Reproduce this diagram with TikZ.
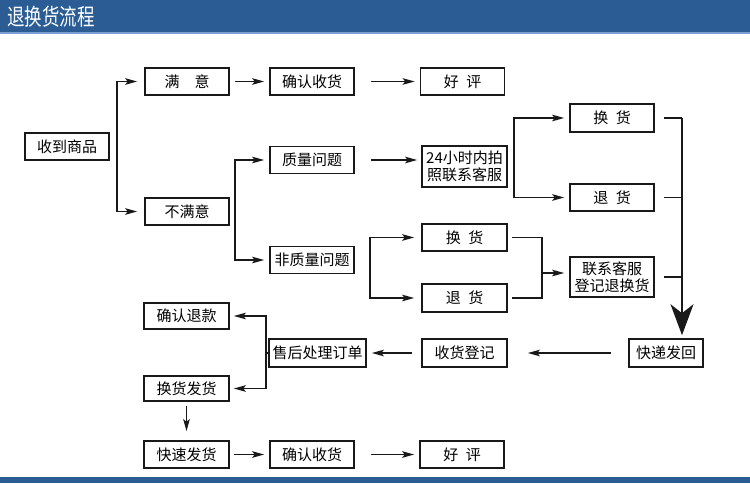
\documentclass[tikz,border=0pt]{standalone}
\usepackage{fontspec}
\setmainfont{Noto Sans CJK SC}
\usetikzlibrary{arrows.meta}
\definecolor{hdr}{RGB}{43,93,148}
\definecolor{hdrl}{RGB}{120,160,210}
\definecolor{ink}{RGB}{25,25,25}
\begin{document}
\begin{tikzpicture}[x=1pt,y=-1pt,
  box/.style={draw=ink,line width=1.6pt,inner sep=0pt,minimum width=84pt,minimum height=27pt,
    font=\fontsize{15}{17}\selectfont,align=center},
  ln/.style={draw=ink,line width=1.7pt},
  arr/.style={ln,-{Stealth[length=12pt,width=6.5pt,inset=2.5pt]}},
  bigarr/.style={ln,-{Stealth[length=31pt,width=23pt,inset=9pt]}}]
\useasboundingbox (0,0) rectangle (750,483);
% header and footer bars
\fill[hdr] (0,0) rectangle (750,32);
\fill[hdrl] (0,32) rectangle (750,33.5);
\fill[hdr] (0,477) rectangle (750,483);
\node[text=white,anchor=west,font=\fontsize{23}{26}\selectfont,xscale=0.76,inner sep=0pt] (title) at (7,16.5) {退换货流程};
% boxes
\node[box] (r)   at (67,146.5) {收到商品};
\node[box] (my)  at (187,81.5) {满\hspace{1em}意};
\node[box] (qr1) at (312,81.5) {确认收货};
\node[box] (hp1) at (462.5,81.5) {好\hspace{0.5em}评};
\node[box] (bmy) at (187,211.5) {不满意};
\node[box] (zl)  at (312,160) {质量问题};
\node[box,minimum width=85pt,minimum height=41pt] (kf) at (464.5,166.5) {24小时内拍\\照联系客服};
\node[box,minimum height=28pt] (hh1) at (612,118) {换\hspace{0.5em}货};
\node[box] (th1) at (612,197.5) {退\hspace{0.5em}货};
\node[box,minimum width=85pt] (hh2) at (464.5,237.5) {换\hspace{0.5em}货};
\node[box,minimum height=40pt] (lx) at (612,277) {联系客服\\登记退换货};
\node[box,minimum width=85pt,minimum height=28pt] (th2) at (464.5,298) {退\hspace{0.5em}货};
\node[box] (fzl) at (312,260) {非质量问题};
\node[box,minimum width=74pt,minimum height=28pt] (kd) at (666,353) {快递发回};
\node[box,minimum width=85pt,minimum height=28pt] (sh) at (464.5,353) {收货登记};
\node[box,minimum width=97pt,minimum height=28pt] (sc) at (317.5,353) {售后处理订单};
\node[box,minimum width=85pt,minimum height=26pt] (qt) at (186.5,316) {确认退款};
\node[box,minimum width=85pt,minimum height=25pt] (hf) at (186.5,388.5) {换货发货};
\node[box,minimum width=85pt] (kf2) at (186.5,454.5) {快速发货};
\node[box] (qr2) at (312,454.5) {确认收货};
\node[box] (hp2) at (462,454.5) {好\hspace{0.5em}评};
% junction coordinates
\coordinate (j1) at (117,146.5);
\coordinate (j2) at (235,211.5);
\coordinate (j3) at (514,166.5);
\coordinate (j4) at (370,268);
\coordinate (j5) at (542,273);
\coordinate (j6) at (682,118);
\coordinate (j7) at (266,353);
% connectors
\draw[arr,shorten >=7pt] (j1) |- (my.west);
\draw[arr,shorten >=7pt] (j1) |- (bmy.west);
\draw[arr,shorten <=5pt,shorten >=5pt] (my.east) -- (qr1.west);
\draw[arr,shorten <=16pt,shorten >=5pt] (qr1.east) -- (hp1.west);
\draw[arr,shorten >=5pt] (j2) |- (zl.west);
\draw[arr,shorten >=5pt] (j2) |- (fzl.west);
\draw[arr,shorten <=16pt,shorten >=4pt] (zl.east) -- (zl.east -| kf.west);
\draw[arr,shorten >=5pt] (j3) |- (hh1.west);
\draw[arr,shorten >=5pt] (j3) |- (th1.west);
\draw[arr,shorten >=7pt] (j4) |- (hh2.west);
\draw[arr,shorten >=7pt] (j4) |- (th2.west);
\draw[ln,shorten <=4pt] (hh2.east) -| (j5);
\draw[ln,shorten <=4pt] (th2.east) -| (j5);
\draw[arr,shorten >=5pt] (j5) -- (j5 -| lx.west);
\draw[ln,shorten <=9pt] (hh1.east) -- (j6);
\draw[ln,shorten <=9pt] (th1.east) -- (th1.east -| j6);
\draw[ln,shorten <=9pt] (lx.east) -- (lx.east -| j6);
\draw[bigarr,shorten >=3pt] (j6) -- (j6 |- kd.north);
\draw[arr,shorten <=17pt,shorten >=20pt] (kd.west) -- (sh.east);
\draw[arr,shorten <=9pt,shorten >=5pt] (sh.west) -- (sc.east);
\draw[ln] (sc.west) -- (j7);
\draw[arr,shorten >=4pt] (j7) |- (qt.east);
\draw[arr,shorten >=4pt] (j7) |- (hf.east);
\draw[arr,shorten <=4pt,shorten >=9pt] (hf.south) -- (kf2.north);
\draw[arr,shorten <=4pt,shorten >=5pt] (kf2.east) -- (qr2.west);
\draw[arr,shorten <=16pt,shorten >=5pt] (qr2.east) -- (hp2.west);
\end{tikzpicture}
\end{document}
